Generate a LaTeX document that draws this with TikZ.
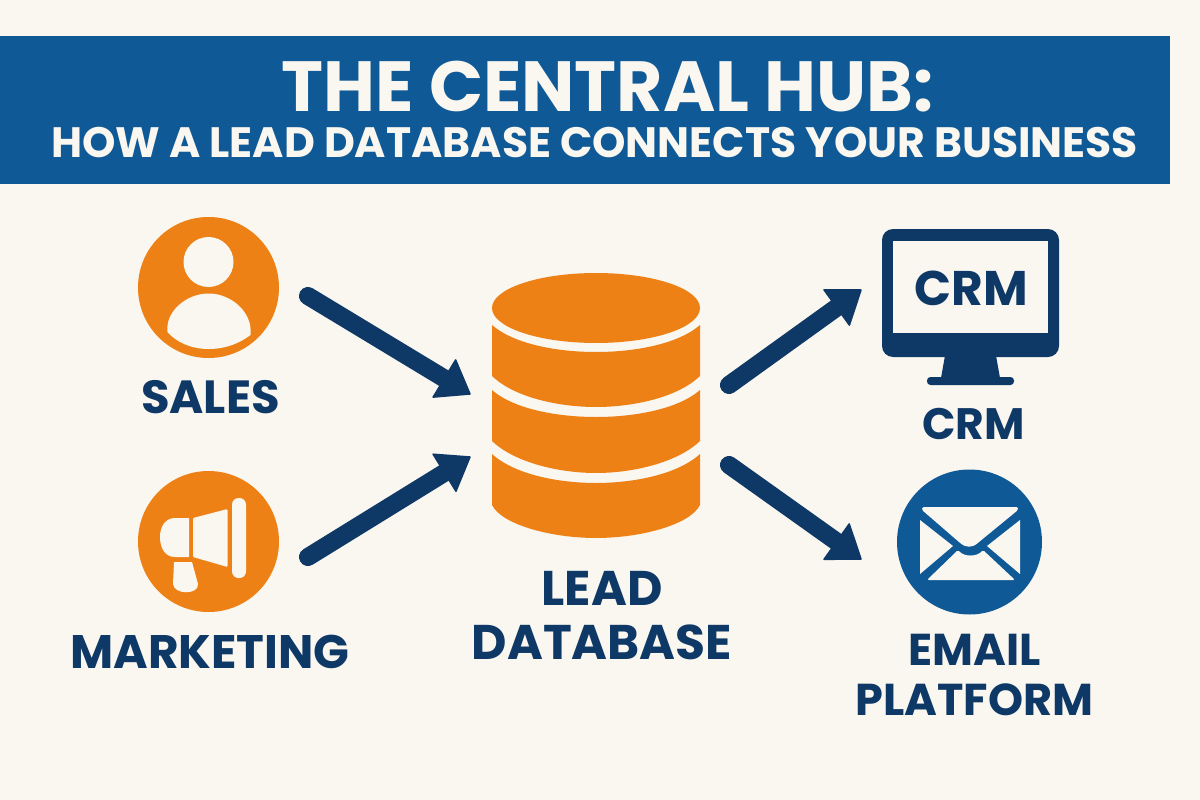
\documentclass[tikz,border=0pt]{standalone}
\usepackage{fontspec}
\setmainfont{Poppins}
\usetikzlibrary{calc}
\definecolor{bgc}{HTML}{FAF6F0}
\definecolor{bandc}{HTML}{0F5A96}
\definecolor{navyc}{HTML}{0E3866}
\definecolor{orangec}{HTML}{EE8115}
\newcommand{\lblsize}[2]{\bfseries\fontsize{#1}{#2}\selectfont}
\tikzset{
 labeltext/.style={text=navyc,align=center,inner sep=0},
 flow/.style={draw=navyc,line width=18pt,line cap=round},
 headtip/.style={fill=navyc,draw=navyc,line width=1.5pt,line join=round},
 iconcut/.style={fill=bgc,draw=none},
}
\begin{document}
\begin{tikzpicture}[x=1pt,y=-1pt]
\useasboundingbox (0,0) rectangle (1200,800);
\fill[bgc] (0,0) rectangle (1200,800);
\fill[bandc] (0,36) rectangle (1170,184);
\node[text=bgc,inner sep=0,font=\lblsize{71}{72}] (title1) at (607.5,87) {THE CENTRAL HUB:};
\node[text=bgc,inner sep=0,font=\lblsize{42.5}{44}] (title2) at (594.5,143) {HOW A LEAD DATABASE CONNECTS YOUR BUSINESS};
% sales icon
\fill[orangec] (208.5,287.5) circle (70.5);
\fill[iconcut] (208.5,262) circle (25);
\fill[iconcut] (167.5,332) .. controls (165,312) and (186,293.5) .. (208.5,293.5) .. controls (231,293.5) and (253,312) .. (250.5,335) .. controls (240,343) and (226,349) .. (208.5,349) .. controls (191,349) and (176,342) .. (167.5,332) -- cycle;
\node[labeltext,font=\lblsize{46.5}{50}] (sales) at (210.5,397) {SALES};
% marketing icon
\fill[orangec] (208.5,541.5) circle (70.5);
\fill[iconcut,rounded corners=1pt] (193,518) -- (227.5,509) -- (227.5,567) -- (193,557) -- cycle;
\fill[iconcut] (189,518) -- (175,518) .. controls (165,518) and (160,527) .. (160,537) .. controls (160,548) and (165,557) .. (175,557) -- (189,557) -- cycle;
\fill[iconcut] (174,562) -- (192,562) -- (198,584) .. controls (199,595) and (174,595) .. (173,584) -- cycle;
\fill[iconcut,rounded corners=6.5pt] (232,498) rectangle (246,578);
\node[labeltext,font=\lblsize{47}{50}] (marketing) at (210,652) {MARKETING};
% database
\fill[orangec] (492,308) arc[start angle=180,end angle=360,x radius=104,y radius=35] arc[start angle=0,end angle=180,x radius=104,y radius=35] -- cycle;
\fill[orangec] (492,325) .. controls (515,345) and (560,352) .. (596,352) .. controls (632,352) and (677,345) .. (700,325) -- (700,376) .. controls (677,398) and (632,407) .. (596,407) .. controls (560,407) and (515,398) .. (492,376) -- cycle;
\fill[orangec] (492,390) .. controls (515,410) and (560,417) .. (596,417) .. controls (632,417) and (677,410) .. (700,390) -- (700,441) .. controls (677,463) and (632,473) .. (596,473) .. controls (560,473) and (515,463) .. (492,441) -- cycle;
\fill[orangec] (492,454) .. controls (515,475) and (560,483) .. (596,483) .. controls (632,483) and (677,475) .. (700,454) -- (700,505) .. controls (690,525) and (640,538) .. (596,538) .. controls (552,538) and (502,525) .. (492,505) -- cycle;
\node[labeltext,font=\lblsize{48.7}{54}] (db) at (602,616) {LEAD\\DATABASE};
% CRM monitor
\fill[navyc,rounded corners=11pt] (882,229) rectangle (1059,357);
\fill[iconcut] (893,241) rectangle (1048,333);
\fill[navyc] (946,350) -- (995,350) -- (1000,378) -- (941,378) -- cycle;
\fill[navyc,rounded corners=3.5pt] (927,377) rectangle (1014,385);
\node[text=navyc,inner sep=0,font=\lblsize{48.6}{50}] (crmscreen) at (971.5,288) {CRM};
\node[labeltext,font=\lblsize{44}{50}] (crm) at (973.5,424) {CRM};
% email icon
\fill[bandc] (969.5,542) circle (72.5);
\fill[iconcut,rounded corners=1.5pt] (922,507) -- (1018,507) -- (1018,510) -- (979,542) .. controls (972,548) and (966,548) .. (959,542) -- (922,510) -- cycle;
\fill[iconcut] (920,520) -- (953,546) -- (920,574) -- cycle;
\fill[iconcut] (1020,520) -- (987,546) -- (1020,574) -- cycle;
\fill[iconcut,rounded corners=1.5pt] (958,550) .. controls (964,557) and (977,557) .. (983,550) -- (1015,580) -- (927,580) -- cycle;
\node[labeltext,font=\lblsize{44.6}{50}] (email) at (974.5,675) {EMAIL\\PLATFORM};
% flow anchors
\coordinate (a1s) at (308,296); \coordinate (a1e) at (470,394);
\coordinate (a2s) at (308,557); \coordinate (a2e) at (470,457);
\coordinate (a3s) at (729,385); \coordinate (a3e) at (861,290);
\coordinate (a4s) at (729,465); \coordinate (a4e) at (861,559);
\foreach \s/\e in {a1s/a1e,a2s/a2e,a3s/a3e,a4s/a4e}{
  \draw[flow,line cap=round] (\s) -- ($(\e)!24pt!(\s)$);
  \fill[headtip] (\e) -- ($(\e)!37pt!36:(\s)$) -- ($(\e)!37pt!-36:(\s)$) -- cycle;
}
\end{tikzpicture}
\end{document}
